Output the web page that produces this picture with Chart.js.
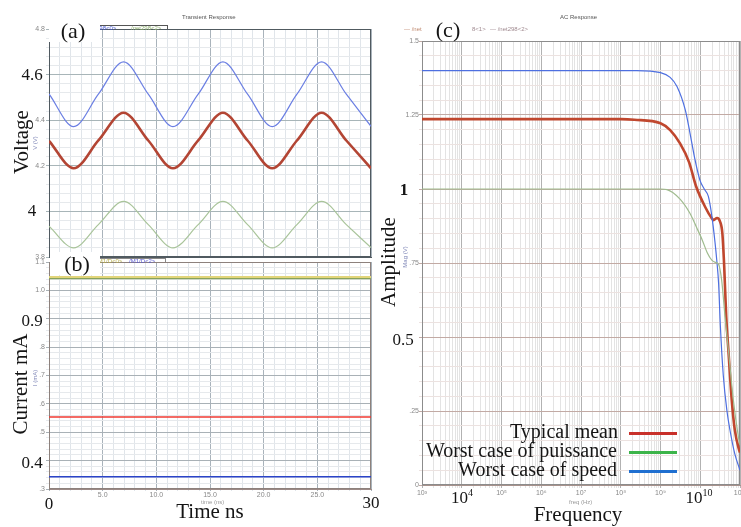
<!DOCTYPE html>
<html>
<head>
<meta charset="utf-8">
<script src="https://cdn.jsdelivr.net/npm/chart.js@4.4.1/dist/chart.umd.min.js"></script>
<style>
  html, body { margin: 0; padding: 0; background: #fff; }
  #page { position: relative; width: 741px; height: 527px; overflow: hidden; background: #fff; }
  #page canvas { position: absolute; left: 0; top: 0; }
  .big { position: absolute; font-family: "Liberation Serif", serif; color: #151515; white-space: nowrap; line-height: 1; transform: translate(-50%, -50%); }
  .rot { transform: translate(-50%, -50%) rotate(-90deg); }
  .tiny { position: absolute; font-family: "Liberation Sans", Arial, sans-serif; font-size: 6px; color: #777; white-space: nowrap; line-height: 1; }
  .box { position: absolute; background: #fff; }
  .sw { position: absolute; height: 3px; width: 48px; }
</style>
</head>
<body>
<div id="page">
  <canvas id="tran" width="741" height="527"></canvas>
  <canvas id="curr" width="741" height="527"></canvas>
  <canvas id="ac" width="760" height="527"></canvas>

  <div class="tiny" style="left:182px;top:14px;color:#555">Transient Response</div>
  <div class="tiny" style="left:560px;top:14px;color:#555">AC Response</div>

  <!-- tabs above panels -->
  <div class="box" style="left:60px;top:25px;width:107px;height:3px;border-top:1px solid #555;border-right:1px solid #555"></div>
  <div class="tiny" style="left:86px;top:25px;color:#4a5ad0">/net298&lt;0&gt;</div>
  <div class="tiny" style="left:131px;top:25px;color:#8fb070">/net298&lt;2&gt;</div>
  <div class="box" style="left:60px;top:258px;width:105px;height:3px;border-top:1px solid #888;border-right:1px solid #888"></div>
  <div class="tiny" style="left:96px;top:258px;color:#b8b050">/M1/D&lt;0&gt;</div>
  <div class="tiny" style="left:129px;top:258px;color:#5a5ad0">/M1/D&lt;2&gt;</div>
  <div class="tiny" style="left:404px;top:26px;color:#c08a70">&#8212; /net</div>
  <div class="tiny" style="left:472px;top:26px;color:#a08a90">8&lt;1&gt;</div>
  <div class="tiny" style="left:490px;top:26px;color:#a08a90">&#8212; /net298&lt;2&gt;</div>

  <div class="box" style="left:49px;top:20px;width:51px;height:22px"></div>
  <div class="big" style="left:73px;top:31px;font-size:22px">(a)</div>
  <div class="box" style="left:50px;top:252px;width:50px;height:23px"></div>
  <div class="big" style="left:77px;top:264px;font-size:22px">(b)</div>
  <div class="big" style="left:448px;top:30px;font-size:22px">(c)</div>

  <!-- small axis titles -->
  <div class="tiny rot" style="left:35px;top:143px;color:#8088b8">V (V)</div>
  <div class="tiny rot" style="left:35px;top:378px;color:#8088b8">I (mA)</div>
  <div class="tiny rot" style="left:405px;top:257px;color:#8088b8">Mag (V)</div>
  <div class="tiny" style="left:201px;top:499px;color:#999">time (ns)</div>
  <div class="tiny" style="left:569px;top:499px;color:#999">freq (Hz)</div>

  <!-- large tick numbers -->
  <div class="big" style="left:32px;top:74px;font-size:17px">4.6</div>
  <div class="big" style="left:32px;top:210px;font-size:17px">4</div>
  <div class="big" style="left:32px;top:320px;font-size:17px">0.9</div>
  <div class="big" style="left:32px;top:462px;font-size:17px">0.4</div>
  <div class="big" style="left:49px;top:503px;font-size:17px">0</div>
  <div class="big" style="left:371px;top:502px;font-size:17px">30</div>
  <div class="big" style="left:404px;top:189px;font-size:17px;font-weight:bold">1</div>
  <div class="big" style="left:403px;top:339px;font-size:17px">0.5</div>
  <div class="big" style="left:462px;top:497px;font-size:17px">10<sup style="font-size:10px">4</sup></div>
  <div class="big" style="left:699px;top:497px;font-size:17px">10<sup style="font-size:10px">10</sup></div>

  <!-- large axis titles -->
  <div class="big rot" style="left:21px;top:142px;font-size:21px">Voltage</div>
  <div class="big rot" style="left:20px;top:384px;font-size:21px">Current mA</div>
  <div class="big rot" style="left:388px;top:262px;font-size:21px">Amplitude</div>
  <div class="big" style="left:210px;top:511px;font-size:21px">Time ns</div>
  <div class="big" style="left:578px;top:514px;font-size:21px">Frequency</div>

  <!-- legend -->
  <div class="big" style="left:auto;right:123px;top:431px;transform:translate(0,-50%);font-size:20px">Typical mean</div>
  <div class="big" style="left:auto;right:124px;top:450px;transform:translate(0,-50%);font-size:20px">Worst case of puissance</div>
  <div class="big" style="left:auto;right:124px;top:469px;transform:translate(0,-50%);font-size:20px">Worst case of speed</div>
  <div class="sw" style="left:629px;top:432px;background:#c8302a"></div>
  <div class="sw" style="left:629px;top:451px;background:#3cb44a"></div>
  <div class="sw" style="left:629px;top:470px;background:#1f6fd0"></div>
</div>

<script>
// (a) transient voltage, time in ns
const tranTime = [0, 2.3, 4.6, 6.95, 9.25, 11.55, 13.9, 16.2, 18.5, 20.8, 23.1, 25.4, 27.7, 30];
const vSpeed = [4.515, 4.372, 4.514, 4.656, 4.514, 4.372, 4.514, 4.656, 4.514, 4.372, 4.514, 4.656, 4.514, 4.373];
const vTyp = [4.309, 4.189, 4.311, 4.433, 4.311, 4.189, 4.311, 4.433, 4.311, 4.189, 4.311, 4.433, 4.311, 4.189];
const vPwr = [3.935, 3.84, 3.942, 4.044, 3.942, 3.84, 3.942, 4.044, 3.942, 3.84, 3.942, 4.044, 3.942, 3.841];
const voltTicks = [3.8, 4.2, 4.4, 4.8];

// (b) supply current, mA
const currTime = [0, 30];
const iPwr = [1.044, 1.044];
const iPwrB = [1.047, 1.047];
const iTyp = [0.554, 0.554];
const iSpeed = [0.343, 0.343];
const currTicks = [0.3, 0.5, 0.6, 0.7, 0.8, 1.0, 1.1];
const timeTicks = [5, 10, 15, 20, 25];

// (c) AC magnitude vs frequency (Hz)
const speedFreq = [1e3, 1e8, 2.5e8, 1e9, 1.75e9, 2.6e9, 4.2e9, 5.5e9, 7.4e9, 9.8e9, 1.26e10, 1.6e10, 1.95e10, 2.35e10, 2.6e10, 2.9e10, 3.2e10, 3.8e10, 4.7e10, 5.6e10, 7.4e10, 1e11];
const speedMag = [1.40, 1.40, 1.40, 1.393, 1.377, 1.346, 1.267, 1.19, 1.098, 1.03, 1.0, 0.975, 0.91, 0.82, 0.76, 0.68, 0.54, 0.37, 0.25, 0.185, 0.105, 0.05];
const typFreq = [1e3, 1e8, 2.2e8, 1e9, 1.75e9, 3.1e9, 5.25e9, 7.8e9, 1.32e10, 1.95e10, 2.15e10, 2.65e10, 3.15e10, 3.6e10, 4e10, 4.5e10, 5.1e10, 6.2e10, 7.4e10, 9.5e10, 1e11];
const typMag = [1.236, 1.236, 1.234, 1.222, 1.199, 1.154, 1.09, 1.01, 0.94, 0.901, 0.895, 0.902, 0.89, 0.85, 0.74, 0.57, 0.456, 0.287, 0.186, 0.118, 0.11];
const pwrFreq = [1e3, 1e9, 1.45e9, 3.1e9, 5.5e9, 8.1e9, 1.12e10, 1.5e10, 1.95e10, 2.4e10, 2.9e10, 3.45e10, 4.2e10, 5.1e10, 6.8e10, 9.1e10, 1e11];
const pwrMag = [1.0, 1.0, 0.998, 0.966, 0.918, 0.87, 0.828, 0.785, 0.76, 0.752, 0.745, 0.693, 0.569, 0.456, 0.287, 0.163, 0.135];
const magTicks = [0, 0.25, 0.75, 1.25, 1.5];
const freqTicks = [1e3, 1e5, 1e6, 1e7, 1e8, 1e9, 1e11];

const sup = { "0": "\u2070", "1": "\u00b9", "2": "\u00b2", "3": "\u00b3", "4": "\u2074", "5": "\u2075", "6": "\u2076", "7": "\u2077", "8": "\u2078", "9": "\u2079" };
const tickFont = { family: "Liberation Sans, Arial, sans-serif", size: 7 };
const has = (list, v) => list.some((t) => Math.abs(t - v) < 1e-6);
const onStep = (v, step) => Math.abs(v / step - Math.round(v / step)) < 1e-6;
const pts = (xs, ys) => xs.map((x, i) => ({ x: x, y: ys[i] }));

function frame(color) {
  return {
    id: "frame",
    beforeDatasetsDraw(chart) {
      const { ctx, chartArea: a } = chart;
      ctx.save();
      ctx.strokeStyle = color;
      ctx.lineWidth = 1;
      ctx.strokeRect(a.left + 0.5, a.top + 0.5, a.right - a.left - 1, a.bottom - a.top - 1);
      ctx.restore();
    },
  };
}

const baseOptions = {
  responsive: false,
  animation: false,
  events: [],
  plugins: { legend: { display: false }, tooltip: { enabled: false } },
  elements: { point: { radius: 0 }, line: { cubicInterpolationMode: "monotone" } },
};

// (a) Transient Response
new Chart(document.getElementById("tran"), {
  type: "line",
  data: {
    datasets: [
      { data: pts(tranTime, vPwr), borderColor: "#a9c49a", borderWidth: 1.2 },
      { data: pts(tranTime, vSpeed), borderColor: "#6b7fe3", borderWidth: 1.2 },
      { data: pts(tranTime, vTyp), borderColor: "#b34534", borderWidth: 2.6 },
    ],
  },
  options: {
    ...baseOptions,
    layout: { padding: { left: 0, top: 29, right: 370, bottom: 0 } },
    scales: {
      x: {
        type: "linear", min: 0, max: 30,
        afterFit: (s) => { s.height = 270; },
        ticks: { display: false, stepSize: 1, autoSkip: false },
        grid: { drawTicks: false, color: (c) => (c.tick && onStep(c.tick.value, 5) ? "#a9b3bb" : "#e0e5ea") },
        border: { color: "#505a60" },
      },
      y: {
        min: 3.8, max: 4.8,
        afterFit: (s) => { s.width = 49; },
        ticks: {
          stepSize: 0.04, autoSkip: false, padding: 1, font: tickFont, color: "#888",
          callback: (v) => (has(voltTicks, v) ? v.toFixed(1) : ""),
        },
        grid: { tickLength: 3, color: (c) => (c.tick && onStep(c.tick.value - 3.8, 0.2) ? "#a8b5b8" : "#e6e9ec") },
        border: { color: "#505a60" },
      },
    },
  },
  plugins: [frame("#505a60")],
});

// (b) supply current
new Chart(document.getElementById("curr"), {
  type: "line",
  data: {
    datasets: [
      { data: pts(currTime, iPwrB), borderColor: "#e2d57a", borderWidth: 2 },
      { data: pts(currTime, iPwr), borderColor: "#87a25c", borderWidth: 2.6 },
      { data: pts(currTime, iTyp), borderColor: "#f03a32", borderWidth: 1.6 },
      { data: pts(currTime, iSpeed), borderColor: "#2a44c8", borderWidth: 1.6 },
    ],
  },
  options: {
    ...baseOptions,
    layout: { padding: { left: 0, top: 262, right: 370, bottom: 0 } },
    scales: {
      x: {
        type: "linear", min: 0, max: 30,
        afterFit: (s) => { s.height = 38; },
        ticks: {
          stepSize: 1, autoSkip: false, maxRotation: 0, padding: 0, font: tickFont, color: "#888",
          callback: (v) => (has(timeTicks, v) ? v.toFixed(1) : ""),
        },
        grid: { tickLength: 2, color: (c) => (c.tick && onStep(c.tick.value, 5) ? "#a9b3bb" : "#e0e5ea") },
        border: { color: "#9c8a86" },
      },
      y: {
        min: 0.3, max: 1.1,
        afterFit: (s) => { s.width = 49; },
        ticks: {
          stepSize: 0.02, autoSkip: false, padding: 1, font: tickFont, color: "#888",
          callback: (v) => (has(currTicks, v) ? (v >= 1 ? v.toFixed(1) : v.toFixed(1).slice(1)) : ""),
        },
        grid: { tickLength: 3, color: (c) => (c.tick && onStep(c.tick.value, 0.1) ? "#a9b1b6" : "#e6e9ec") },
        border: { color: "#8d817c" },
      },
    },
  },
  plugins: [frame("#8d817c")],
});

// (c) AC Response
new Chart(document.getElementById("ac"), {
  type: "line",
  data: {
    datasets: [
      { data: pts(pwrFreq, pwrMag), borderColor: "#9fbb8e", borderWidth: 1.2 },
      { data: pts(speedFreq, speedMag), borderColor: "#4d6fe0", borderWidth: 1.2 },
      { data: pts(typFreq, typMag), borderColor: "#c0472e", borderWidth: 2.6 },
    ],
  },
  options: {
    ...baseOptions,
    layout: { padding: { left: 0, top: 41, right: 20, bottom: 0 } },
    scales: {
      x: {
        type: "logarithmic", min: 1e3, max: 1e11,
        afterFit: (s) => { s.height = 42; },
        afterBuildTicks: (s) => {
          const t = [];
          for (let e = 3; e < 11; e++) for (let m = 1; m < 10; m++) t.push({ value: m * Math.pow(10, e) });
          t.push({ value: 1e11 });
          s.ticks = t;
        },
        ticks: {
          autoSkip: false, maxRotation: 0, padding: 1, font: tickFont, color: "#888",
          callback: (v) => (has(freqTicks, v) ? "10" + String(Math.round(Math.log10(v))).split("").map((d) => sup[d]).join("") : ""),
        },
        grid: {
          tickLength: 3,
          color: (c) => {
            if (!c.tick) return "#e2e2e2";
            const l = Math.log10(c.tick.value);
            return Math.abs(l - Math.round(l)) < 1e-9 ? "#b2b2b2" : "#e3e3e3";
          },
        },
        border: { color: "#a8928c" },
      },
      y: {
        min: 0, max: 1.5,
        afterFit: (s) => { s.width = 422; },
        ticks: {
          stepSize: 0.05, autoSkip: false, padding: 0, font: tickFont, color: "#888",
          callback: (v) => (has(magTicks, v) ? (v === 0 ? "0" : v >= 1 ? String(v) : String(v).slice(1)) : ""),
        },
        grid: { tickLength: 3, color: (c) => (c.tick && onStep(c.tick.value, 0.25) ? "#c2aaa4" : "#ece2e0") },
        border: { color: "#999" },
      },
    },
  },
  plugins: [frame("#8c8c8c")],
});
</script>
</body>
</html>
